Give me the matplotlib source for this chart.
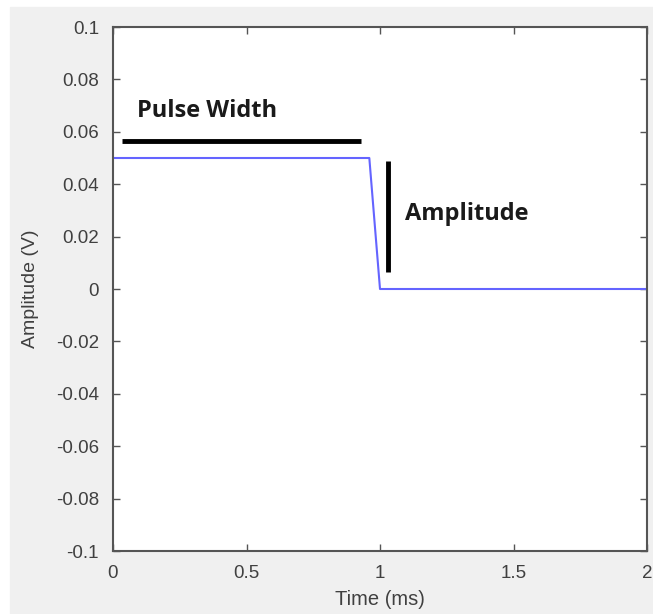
import numpy as np
import matplotlib.pyplot as plt

# Signal (time in ms, amplitude in V)
time = [0.0, 0.96, 1.0, 2.0]
amplitude = [0.05, 0.05, 0.0, 0.0]

# Annotation markers
pulse_x = [0.035, 0.93]
pulse_y = [0.0564, 0.0564]
amp_x = [1.03, 1.03]
amp_y = [0.049, 0.0063]

xticks = [0, 0.5, 1, 1.5, 2]
yticks = np.round(np.arange(-0.1, 0.1001, 0.02), 2)
ytick_labels = ['-0.1', '-0.08', '-0.06', '-0.04', '-0.02', '0',
                '0.02', '0.04', '0.06', '0.08', '0.1']

plt.rcParams['font.family'] = ['Liberation Sans', 'DejaVu Sans']

fig = plt.figure(figsize=(6.53, 6.14), dpi=100)
fig.patch.set_facecolor('white')
# gray MATLAB-like figure panel
bg = plt.Rectangle((10 / 653, 0), 1 - 10 / 653, 1 - 7 / 614,
                   transform=fig.transFigure, color='#f0f0f0', zorder=-10)
fig.patches.append(bg)

ax = fig.add_axes([113 / 653, 1 - 551 / 614, 534 / 653, 524 / 614])
ax.set_facecolor('white')

ax.plot(time, amplitude, color='#6464ff', linewidth=1.5)
ax.plot(pulse_x, pulse_y, color='black', linewidth=3.5, solid_capstyle='butt')
ax.plot(amp_x, amp_y, color='black', linewidth=3.5, solid_capstyle='butt')

ax.text(0.09, 0.068, 'Pulse Width', fontsize=17, fontweight='bold',
        color='#1a1a1a', va='center', ha='left', family=['Open Sans', 'DejaVu Sans'])
ax.text(1.095, 0.0285, 'Amplitude', fontsize=17, fontweight='bold',
        color='#1a1a1a', va='center', ha='left', family=['Open Sans', 'DejaVu Sans'])

ax.set_xlim(0, 2)
ax.set_ylim(-0.1, 0.1)
ax.set_xticks(xticks)
ax.set_xticklabels(['0', '0.5', '1', '1.5', '2'])
ax.set_yticks(yticks)
ax.set_yticklabels(ytick_labels)
ax.tick_params(direction='in', top=True, right=True, length=5, width=1,
               color='#555555', labelsize=13.5, labelcolor='#404040')
ax.tick_params(axis='x', pad=10)
ax.tick_params(axis='y', pad=10)
for s in ax.spines.values():
    s.set_color('#555555')
    s.set_linewidth(1.5)

ax.set_xlabel('Time (ms)', fontsize=14.5, color='#404040', labelpad=6)
ax.set_ylabel('Amplitude (V)', fontsize=14, color='#404040', labelpad=12)

fig.savefig('out.png', dpi=100)
